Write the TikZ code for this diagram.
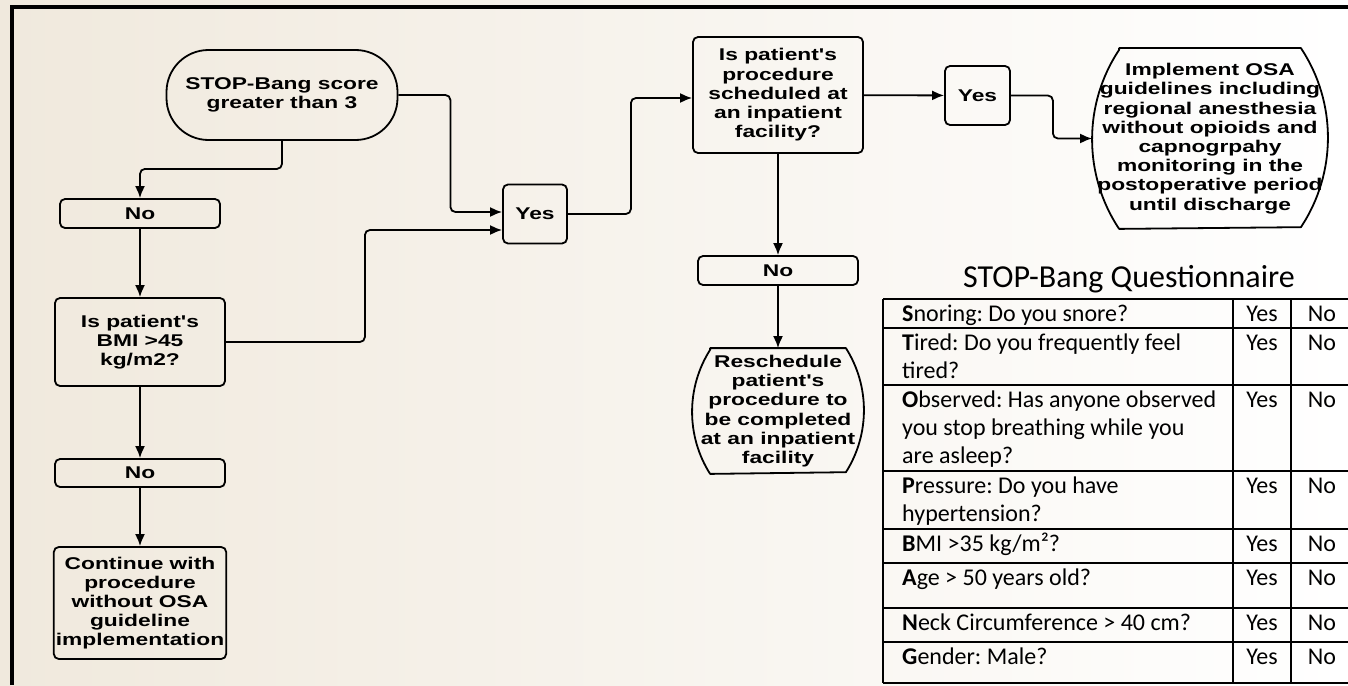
\documentclass[tikz,border=0pt]{standalone}
\usepackage{fontspec}
\usetikzlibrary{arrows.meta}
\newfontfamily\flowfont[FakeStretch=1.34, Ligatures=TeXOff]{Liberation Sans Bold}
\newfontfamily\tabfont{Carlito}
\definecolor{bgbeige}{RGB}{240,233,221}

\begin{document}
\begin{tikzpicture}[x=1pt,y=-1pt,>={Latex[length=12pt,width=10pt]},
    txt/.style={draw, line width=1.8pt, align=center, inner sep=2pt, font=\flowfont\fontsize{17}{19.2}\selectfont},
    box/.style={txt, rounded corners=5pt},
    barrel/.style={txt, draw=none},
    outline/.style={line width=1.8pt, line join=round},
    link/.style={->, line width=1.8pt, rounded corners=5pt},
    cell/.style={anchor=north west, inner sep=0pt, align=left, font=\tabfont\fontsize{24}{28}\selectfont\frenchspacing},
    ans/.style={cell, anchor=north}]
    % background and frame
    \useasboundingbox (0,0) rectangle (1348,685);
    \shade[left color=bgbeige, right color=white] (0,0) rectangle (1348,685);
    \draw[line width=4pt] (12,685) -- (12,7.5) -- (1348,7.5);

    % left column
    \node[box, rounded corners=42pt, minimum width=231pt, minimum height=90pt] (start) at (282,95) {STOP-Bang score\\greater than 3};
    \node[box, minimum width=160pt, minimum height=29pt] (noA) at (140,213.5) {No};
    \node[box, minimum width=170pt, minimum height=88pt] (bmi) at (140,342) {Is patient's\\BMI >45\\kg/m2?};
    \node[box, minimum width=170pt, minimum height=28pt] (noB) at (140,473) {No};
    \node[box, minimum width=170pt, minimum height=112pt] (cont) at (140,603) {Continue with\\procedure\\without OSA\\guideline\\implementation};

    % middle
    \node[box, minimum width=64pt, minimum height=59pt] (yesA) at (535,214) {Yes};
    \node[box, minimum width=170pt, minimum height=116pt] (proc) at (778,95) {Is patient's\\procedure\\scheduled at\\an inpatient\\facility?};
    \node[box, minimum width=160pt, minimum height=29pt] (noC) at (778,270.5) {No};
    \node[barrel, minimum width=170pt, minimum height=124pt] (resched) at (778,411) {Reschedule\\patient's\\procedure to\\be completed\\at an inpatient\\facility};
    \draw[outline] ([xshift=18pt]resched.north west) -- ([xshift=-18pt]resched.north east)
        arc[start angle=32.4, end angle=-32.4, radius=115.8pt] -- ([xshift=18pt]resched.south west)
        arc[start angle=212.4, end angle=147.6, radius=115.8pt] -- cycle;

    % right
    \node[box, minimum width=65pt, minimum height=59pt] (yesB) at (977.5,95.5) {Yes};
    \node[barrel, minimum width=234pt, minimum height=179pt] (impl) at (1210,138.5) {Implement OSA\\guidelines including\\regional anesthesia\\without opioids and\\capnogrpahy\\monitoring in the\\postoperative period\\until discharge};
    \draw[outline] ([xshift=27pt]impl.north west) -- ([xshift=-27pt]impl.north east)
        arc[start angle=33.6, end angle=-33.6, radius=161.8pt] -- ([xshift=27pt]impl.south west)
        arc[start angle=213.6, end angle=146.4, radius=161.8pt] -- cycle;

    % connectors
    \draw[link] (start.south) -- ++(0,28) -| (noA.north);
    \draw[link] (noA) -- (bmi);
    \draw[link] (bmi) -- (noB);
    \draw[link] (noB) -- (cont);
    \draw[link] (start.east) -- ++(52,0) |- ([yshift=2pt]yesA.west);
    \draw[link] (bmi.east) -- ++(139,0) |- ([yshift=-16pt]yesA.west);
    \draw[link] (yesA.east) -- ++(63,0) |- ([yshift=-3pt]proc.west);
    \draw[link] (proc) -- (noC);
    \draw[link] (noC) -- (resched);
    \draw[link] (proc) -- (yesB);
    \draw[link] (yesB.east) -- ++(42,0) |- (impl.west);

    % questionnaire
    \node[font=\tabfont\fontsize{32}{38}\selectfont, anchor=base] (title) at (1129,287) {STOP-Bang Questionnaire};
    \foreach \t in {299,328,385,471,529,563,608,642,683}
        \draw[line width=2.6pt] (883,\t) -- (1352,\t);
    \foreach \c in {883,1233,1291}
        \draw[line width=2.6pt] (\c,299) -- (\c,683);
    \node[cell] (qS) at (902,302) {\strut\textbf{S}noring: Do you snore?};
    \node[cell] (qT) at (902,331) {\strut\textbf{T}ired: Do you frequently feel\\tired?};
    \node[cell] (qO) at (902,388) {\strut\textbf{O}bserved: Has anyone observed\\you stop breathing while you\\are asleep?};
    \node[cell] (qP) at (902,474) {\strut\textbf{P}ressure: Do you have\\hypertension?};
    \node[cell] (qB) at (902,532) {\strut\textbf{B}MI >35 kg/m²?};
    \node[cell] (qA) at (902,566) {\strut\textbf{A}ge > 50 years old?};
    \node[cell] (qN) at (902,611) {\strut\textbf{N}eck Circumference > 40 cm?};
    \node[cell] (qG) at (902,645) {\strut\textbf{G}ender: Male?};
    \foreach \t [count=\i] in {299,328,385,471,529,563,608,642} {
        \node[ans] (yes\i) at (1262,\t+3) {\strut Yes};
        \node[ans] (no\i) at (1322,\t+3) {\strut No};
    }
\end{tikzpicture}
\end{document}
